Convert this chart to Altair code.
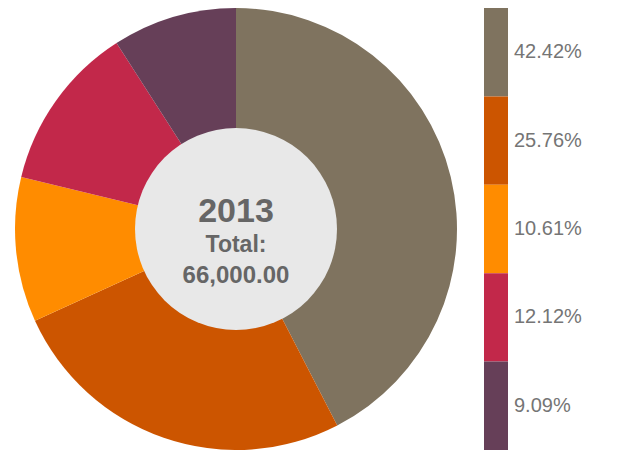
import math
import altair as alt
import pandas as pd

# ---- data ----
categories = ["S1", "S2", "S3", "S4", "S5"]
values = [28000, 17000, 7000, 8000, 6000]
colors = ["#7f735f", "#cc5500", "#ff8c00", "#c2284a", "#663f58"]
year = ["2013"]
total_caption = ["Total:"]

df = pd.DataFrame({"category": categories, "value": values, "order": list(range(len(categories)))})
year_df = pd.DataFrame({"year": year})
cap_df = pd.DataFrame({"caption": total_caption})

FONT = "Liberation Sans"
color_scale = alt.Scale(domain=categories, range=colors)

# ---- pie ----
pie = alt.Chart(df).mark_arc(outerRadius=221).encode(
    theta=alt.Theta("value:Q", stack=True),
    color=alt.Color("category:N", scale=color_scale, legend=None),
    order=alt.Order("order:Q"),
)

hole = alt.Chart(year_df).mark_arc(outerRadius=101, theta=0, theta2=2 * math.pi).encode(
    color=alt.value("#e8e8e8")
)

year_text = alt.Chart(year_df).mark_text(
    font=FONT, fontSize=34, fontWeight="bold", color="#666666", baseline="alphabetic", dy=-7
).encode(text="year:N")

caption_text = alt.Chart(cap_df).mark_text(
    font=FONT, fontSize=23, fontWeight="bold", color="#666666", baseline="alphabetic", dy=23
).encode(text="caption:N")

total_text = alt.Chart(df).transform_aggregate(total="sum(value)").mark_text(
    font=FONT, fontSize=24, fontWeight="bold", color="#666666", baseline="alphabetic", dy=54
).encode(text=alt.Text("total:Q", format=",.2f"))

pie_chart = alt.layer(pie, hole, year_text, caption_text, total_text).properties(width=456, height=442)

# ---- legend ----
leg = (
    alt.Chart(df)
    .transform_joinaggregate(total="sum(value)")
    .transform_calculate(pct="datum.value / datum.total", unit="1")
    .transform_stack(
        stack="unit", as_=["y0", "y1"], groupby=[],
        sort=[alt.SortField("order", order="descending")],
    )
    .transform_calculate(mid="(datum.y0 + datum.y1) / 2")
)

yscale = alt.Scale(domain=[0, 5], nice=False, zero=False)

leg_bars = leg.mark_rect().encode(
    y=alt.Y("y0:Q", scale=yscale, axis=None),
    y2="y1:Q",
    color=alt.Color("category:N", scale=color_scale, legend=None),
)

leg_text = leg.mark_text(
    font=FONT, fontSize=20, color="#757575", align="left", baseline="middle", dx=18
).encode(
    y=alt.Y("mid:Q", scale=yscale, axis=None),
    text=alt.Text("pct:Q", format=".2%"),
)

legend_chart = alt.layer(leg_bars, leg_text).properties(width=24, height=442)

chart = (
    alt.hconcat(pie_chart, legend_chart, spacing=20)
    .properties(padding=0)
    .configure_view(stroke=None)
)

chart.save("out.html", embed_options={"renderer": "svg", "actions": False})
